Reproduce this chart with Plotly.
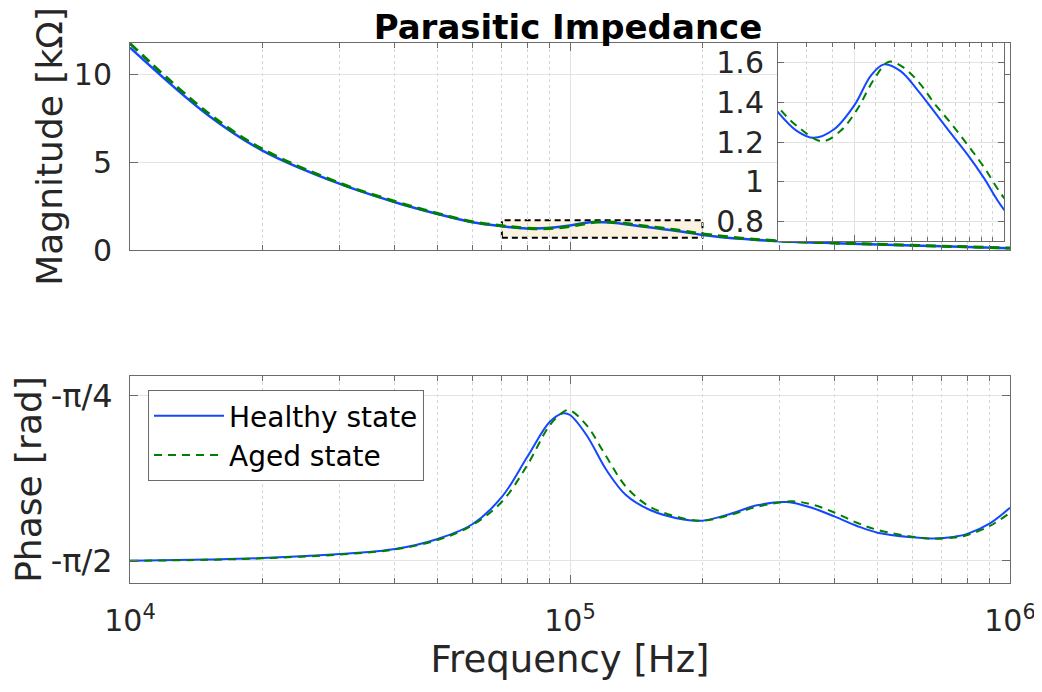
import math
import plotly.graph_objects as go

# ---------------- data ----------------
freq_mag_h = [1e4, 1.5e4, 2e4, 3e4, 4e4, 5e4, 6e4, 7e4, 7.65e4, 8.26e4, 9.07e4, 1.0e5,
              1.076e5, 1.145e5, 1.237e5, 1.336e5, 1.444e5, 1.56e5, 1.687e5, 1.82e5, 2.0e5,
              2.5e5, 3e5, 4e5, 5e5, 6e5, 7e5, 8e5, 1e6]
mag_h = [11.52, 7.70, 5.66, 3.76, 2.72, 2.05, 1.58, 1.351, 1.255, 1.221, 1.263, 1.389,
         1.533, 1.592, 1.558, 1.465, 1.356, 1.246, 1.137, 1.020, 0.859,
         0.62, 0.50, 0.39, 0.32, 0.26, 0.21, 0.17, 0.10]

freq_mag_a = [1e4, 1.5e4, 2e4, 3e4, 4e4, 5e4, 6e4, 7e4, 7.65e4, 8.59e4, 9.35e4, 1.011e5,
              1.093e5, 1.172e5, 1.256e5, 1.357e5, 1.444e5, 1.56e5, 1.687e5, 1.82e5, 2.0e5,
              2.5e5, 3e5, 4e5, 5e5, 6e5, 7e5, 8e5, 1e6]
mag_a = [11.75, 7.82, 5.74, 3.80, 2.76, 2.08, 1.61, 1.378, 1.280, 1.204, 1.255, 1.364,
         1.516, 1.605, 1.575, 1.491, 1.398, 1.297, 1.187, 1.075, 0.918,
         0.65, 0.52, 0.40, 0.33, 0.27, 0.22, 0.18, 0.11]

freq_ph_h = [1e4, 1.5e4, 2e4, 3e4, 4e4, 5e4, 6e4, 7e4, 8e4, 9e4, 9.66e4, 1e5, 1.09e5, 1.21e5,
             1.34e5, 1.52e5, 1.81e5, 2e5, 2.31e5, 2.66e5, 3.11e5, 3.57e5, 4e5, 4.49e5,
             5e5, 6e5, 6.7e5, 7.5e5, 8e5, 9e5, 1e6]
phase_h = [-1.570, -1.564, -1.557, -1.538, -1.514, -1.466, -1.396, -1.266, -1.075, -0.908,
           -0.868, -0.876, -0.971, -1.138, -1.257, -1.328, -1.373, -1.379, -1.347, -1.306,
           -1.290, -1.320, -1.360, -1.404, -1.436, -1.458, -1.464, -1.455, -1.442, -1.392,
           -1.317]

freq_ph_a = [1e4, 1.5e4, 2e4, 3e4, 4e4, 5e4, 6e4, 7e4, 8e4, 9e4, 9.74e4, 1.0e5, 1.09e5, 1.21e5,
             1.34e5, 1.52e5, 1.81e5, 2e5, 2.31e5, 2.66e5, 3.2e5, 3.57e5, 4e5, 4.49e5,
             5e5, 6e5, 6.7e5, 7.5e5, 8e5, 9e5, 1e6]
phase_a = [-1.570, -1.565, -1.558, -1.540, -1.516, -1.471, -1.400, -1.289, -1.114, -0.924,
           -0.856, -0.854, -0.924, -1.075, -1.217, -1.313, -1.368, -1.379, -1.352, -1.313,
           -1.287, -1.304, -1.341, -1.389, -1.423, -1.455, -1.465, -1.459, -1.447, -1.404,
           -1.341]

series_names = ["Healthy state", "Aged state"]
title_text = "Parasitic Impedance"
x_major = [1e4, 1e5, 1e6]
x_major_text = ["10<sup>4</sup>", "10<sup>5</sup>", "10<sup>6</sup>"]
x_minor = [k * 10 ** e for e in (4, 5) for k in range(2, 10)]
inset_minor = [k * 1e4 for k in range(8, 21) if k != 10]
mag_ticks = [0, 5, 10]
inset_ticks = [0.8, 1.0, 1.2, 1.4, 1.6]
inset_tick_text = ["0.8", "1", "1.2", "1.4", "1.6"]
phase_ticks = [-math.pi / 2, -math.pi / 4]
phase_tick_text = ["-π/2", "-π/4"]
zoom_x = [7e4, 2e5]
zoom_y = [0.7, 1.7]

# ---------------- styling ----------------
OFF = 8                       # default page margin around the plot div
W, H = 1042 - OFF, 692 - OFF
BLUE = "#1447ff"
GREEN = "#008000"
AXC = "#6b6b6b"
TXT = "#262626"
FONT = "DejaVu Sans"

def px_x(p):
    return (p - OFF) / W

def px_y(p):
    return 1 - (p - OFF) / H

fig = go.Figure()

# top magnitude
fig.add_trace(go.Scatter(x=freq_mag_h, y=mag_h, mode="lines", line=dict(color=BLUE, width=2.5, shape="spline"),
                         showlegend=False, xaxis="x", yaxis="y"))
fig.add_trace(go.Scatter(x=freq_mag_a, y=mag_a, mode="lines",
                         line=dict(color=GREEN, width=3, dash="10px,6px", shape="spline"),
                         showlegend=False, xaxis="x", yaxis="y"))
# bottom phase
fig.add_trace(go.Scatter(x=freq_ph_h, y=phase_h, mode="lines", name=series_names[0],
                         line=dict(color=BLUE, width=2, shape="spline"), xaxis="x2", yaxis="y2"))
fig.add_trace(go.Scatter(x=freq_ph_a, y=phase_a, mode="lines", name=series_names[1],
                         line=dict(color=GREEN, width=2, dash="8px,6px", shape="spline"), xaxis="x2", yaxis="y2"))
# inset
fig.add_trace(go.Scatter(x=freq_mag_h, y=mag_h, mode="lines", line=dict(color=BLUE, width=2, shape="spline"),
                         showlegend=False, xaxis="x3", yaxis="y3"))
fig.add_trace(go.Scatter(x=freq_mag_a, y=mag_a, mode="lines",
                         line=dict(color=GREEN, width=2, dash="8px,6px", shape="spline"),
                         showlegend=False, xaxis="x3", yaxis="y3"))

common = dict(showline=True, linecolor=AXC, linewidth=1, mirror="ticks", ticks="inside",
              ticklen=8, tickcolor=AXC, tickwidth=1, gridcolor="#e3e3e3", gridwidth=1,
              zeroline=False, automargin=False, tickfont=dict(family=FONT, size=30, color=TXT))
minor_common = dict(ticks="inside", ticklen=5, tickcolor=AXC, showgrid=True,
                    gridcolor="#d4d4d4", griddash="dot", gridwidth=1)

dom_x = [px_x(130), px_x(1010)]

fig.update_layout(
    width=W, height=H, margin=dict(l=0, r=0, t=0, b=0, autoexpand=False),
    paper_bgcolor="white", plot_bgcolor="white",
    font=dict(family=FONT, color=TXT),
    title=dict(text=title_text, x=px_x(568), xanchor="center", y=px_y(27), yanchor="middle",
               font=dict(family=FONT, size=34, color="black", weight="bold")),
    xaxis=dict(common, type="log", domain=dom_x, range=[4, 6], anchor="y",
               tickvals=x_major, showticklabels=False,
               minor=dict(minor_common, tickvals=x_minor)),
    yaxis=dict(common, domain=[px_y(250), px_y(43)], range=[0, 11.78], anchor="x",
               tickvals=mag_ticks, ticklabelstandoff=11,
               title=dict(text="Magnitude [kΩ]", font=dict(family=FONT, size=36, color=TXT), standoff=0)),
    xaxis2=dict(common, type="log", domain=dom_x, range=[4, 6], anchor="y2",
                tickvals=x_major, ticktext=x_major_text, ticklabelstandoff=11,
                minor=dict(minor_common, tickvals=x_minor),
                title=dict(text="Frequency [Hz]", font=dict(family=FONT, size=37, color=TXT), standoff=6)),
    yaxis2=dict(common, domain=[px_y(583.3), px_y(375.7)], range=[-1.677, -0.689], anchor="x2",
                tickvals=phase_ticks, ticktext=phase_tick_text, ticklabelstandoff=10,
                tickfont=dict(family=FONT, size=32, color=TXT),
                title=dict(text="Phase [rad]", font=dict(family=FONT, size=36, color=TXT), standoff=0)),
    xaxis3=dict(common, type="log", domain=[px_x(778), px_x(1004)],
                range=[math.log10(zoom_x[0]), math.log10(zoom_x[1])], anchor="y3",
                tickvals=[1e5], showticklabels=False, ticklen=6,
                minor=dict(minor_common, tickvals=inset_minor, ticklen=4)),
    yaxis3=dict(common, domain=[px_y(241), px_y(43)], range=zoom_y, anchor="x3",
                tickvals=inset_ticks, ticktext=inset_tick_text, ticklabelstandoff=7, ticklen=6),
    legend=dict(x=px_x(148), y=px_y(390), xanchor="left", yanchor="top",
                bordercolor=AXC, borderwidth=1, bgcolor="white", itemwidth=70,
                font=dict(family=FONT, size=28, color="black"), tracegroupgap=0),
    showlegend=True,
)

# highlighted zoom region in the main axes
fig.add_shape(type="rect", xref="x", yref="y", x0=zoom_x[0], x1=zoom_x[1], y0=zoom_y[0], y1=zoom_y[1],
              fillcolor="#fbf2df", line=dict(color="black", width=2, dash="6px,4px"), layer="below")
# white background of the inset axes (covers main grid beneath it)
fig.add_shape(type="rect", xref="x3", yref="y3", x0=zoom_x[0], x1=zoom_x[1], y0=zoom_y[0], y1=zoom_y[1],
              fillcolor="white", line=dict(width=0), layer="below")

fig.write_html("out.html")
